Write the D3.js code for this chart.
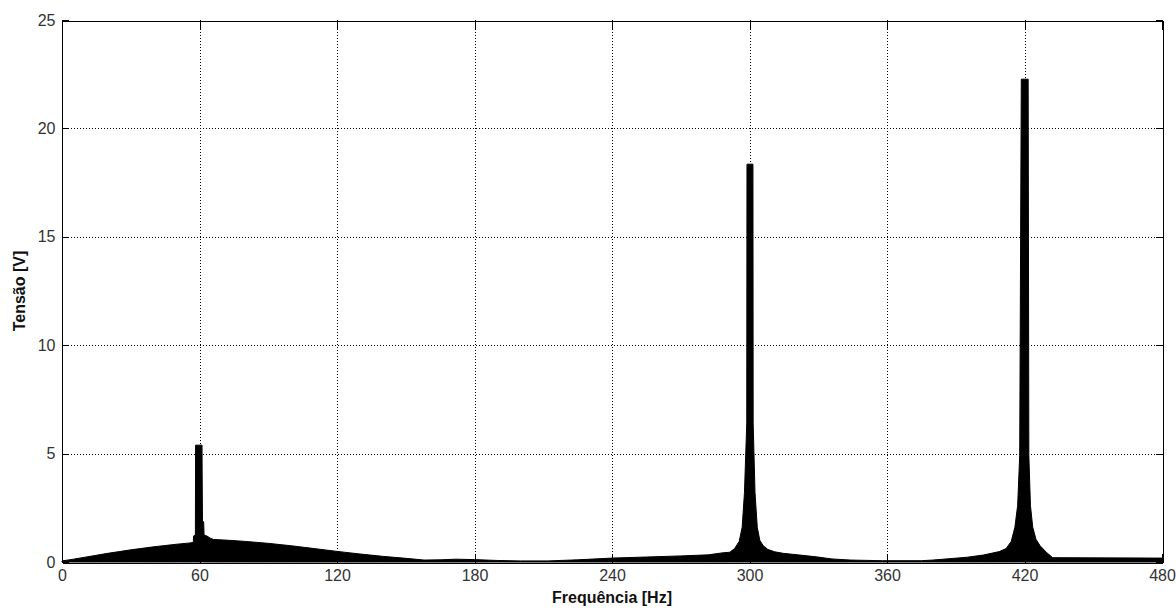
<!DOCTYPE html>
<html>
<head>
<meta charset="utf-8">
<script src="https://cdn.jsdelivr.net/npm/d3@7"></script>
<style>
  html, body { margin: 0; padding: 0; background: #fff; }
  svg { display: block; }
  text { font-family: "Liberation Sans", Arial, sans-serif; }
</style>
</head>
<body>
<svg id="chart" width="1176" height="608"></svg>
<script>
// ---- data ----
const freqHz = [
  0, 5, 10, 15, 20, 25, 30, 35, 40, 45, 50, 55, 57.3, 57.4, 58.2, 58.3, 61.1, 61.15, 61.3, 61.8, 62.0, 63.2, 64.7, 66.1,
  73, 80, 90, 100, 110, 120, 130, 140, 150, 158, 165, 172, 180, 190, 200, 212, 225, 240, 255, 270, 282, 288, 291.4,
  293.5, 295.5, 296.8, 297.8, 298.8, 298.9, 301.5, 301.6, 302.4, 303.4, 304.5, 306, 308, 311, 314.7, 322, 329, 336, 344, 358, 375,
  380, 387, 395, 402, 409, 412, 414.2, 415.8, 417.0, 417.9, 418.6, 421.6, 421.9, 422.6, 423.6, 425, 426.8, 429.5, 432.3, 480
];
const tensaoV = [
  0.05, 0.13, 0.22, 0.31, 0.40, 0.48, 0.56, 0.63, 0.70, 0.76, 0.82, 0.87, 0.90, 1.20, 1.25, 5.39, 5.39, 4.24, 1.86, 1.86, 1.24, 1.20, 1.10, 1.04,
  1.00, 0.95, 0.86, 0.75, 0.62, 0.49, 0.37, 0.26, 0.17, 0.09, 0.10, 0.13, 0.11, 0.07, 0.05, 0.05, 0.10, 0.18, 0.23, 0.28, 0.33, 0.42, 0.45,
  0.62, 0.95, 1.60, 3.20, 6.40, 18.35, 18.35, 6.40, 3.20, 1.60, 1.00, 0.75, 0.58, 0.47, 0.40, 0.32, 0.24, 0.14, 0.09, 0.06, 0.06,
  0.09, 0.15, 0.22, 0.32, 0.48, 0.62, 0.95, 1.60, 2.60, 4.90, 22.27, 22.27, 4.90, 2.60, 1.60, 1.05, 0.75, 0.45, 0.20, 0.18
];
const xTicks = [0, 60, 120, 180, 240, 300, 360, 420, 480];
const yTicks = [0, 5, 10, 15, 20, 25];
const xLabel = "Frequência [Hz]";
const yLabel = "Tensão [V]";

// ---- layout ----
const svg = d3.select("#chart");
const L = 62, R = 1162, T = 20, B = 562;
const x = d3.scaleLinear().domain([0, 480]).range([L, R]);
const y = d3.scaleLinear().domain([0, 25]).range([B, T]);

const data = freqHz.map((f, i) => ({ f, v: tensaoV[i] }));

// grid
const grid = svg.append("g").attr("stroke", "#000").attr("stroke-width", 1)
  .attr("stroke-dasharray", "1,2").attr("shape-rendering", "crispEdges");
xTicks.slice(1, -1).forEach(t => {
  grid.append("line").attr("x1", Math.round(x(t)) + 0.5).attr("x2", Math.round(x(t)) + 0.5)
    .attr("y1", T).attr("y2", B);
});
yTicks.slice(1, -1).forEach(t => {
  grid.append("line").attr("y1", Math.round(y(t)) + 0.5).attr("y2", Math.round(y(t)) + 0.5)
    .attr("x1", L).attr("x2", R);
});

// spectrum area
const area = d3.area().x(d => x(d.f)).y0(y(0)).y1(d => y(d.v)).curve(d3.curveLinear);
svg.append("path").datum(data).attr("d", area)
  .attr("fill", "#000").attr("stroke", "#000").attr("stroke-width", 1).attr("stroke-linejoin", "miter");

// axes (MATLAB-like: ticks inward, box on)
const xAxisB = d3.axisBottom(x).tickValues(xTicks).tickSizeInner(-9).tickSizeOuter(0).tickPadding(7).tickFormat(d3.format("d"));
const xAxisT = d3.axisTop(x).tickValues(xTicks).tickSizeInner(-9).tickSizeOuter(0).tickFormat("");
const yAxisL = d3.axisLeft(y).tickValues(yTicks).tickSizeInner(-7).tickSizeOuter(0).tickPadding(6).tickFormat(d3.format("d"));
const yAxisR = d3.axisRight(y).tickValues(yTicks).tickSizeInner(-7).tickSizeOuter(0).tickFormat("");

function style(g) {
  g.selectAll("path.domain").attr("stroke", "#000").attr("stroke-width", 1);
  g.selectAll("line").attr("stroke", "#000");
  g.selectAll("text").attr("fill", "#333").style("font-size", "16px")
    .style("font-family", "'Liberation Sans', Arial, sans-serif");
  g.attr("shape-rendering", "crispEdges");
}
svg.append("g").attr("transform", `translate(0,${B + 0.5})`).call(xAxisB).call(style);
svg.append("g").attr("transform", `translate(0,${T + 0.5})`).call(xAxisT).call(style);
svg.append("g").attr("transform", `translate(${L - 0.5},0)`).call(yAxisL).call(style);
svg.append("g").attr("transform", `translate(${R + 0.5},0)`).call(yAxisR).call(style);

// axis labels
svg.append("text").attr("x", (L + R) / 2).attr("y", 603).attr("text-anchor", "middle")
  .style("font-size", "16px").style("font-weight", "bold").attr("fill", "#111").text(xLabel);
svg.append("text").attr("transform", `translate(25,${(T + B) / 2}) rotate(-90)`).attr("text-anchor", "middle")
  .style("font-size", "16px").style("font-weight", "bold").attr("fill", "#111").text(yLabel);
</script>
</body>
</html>
